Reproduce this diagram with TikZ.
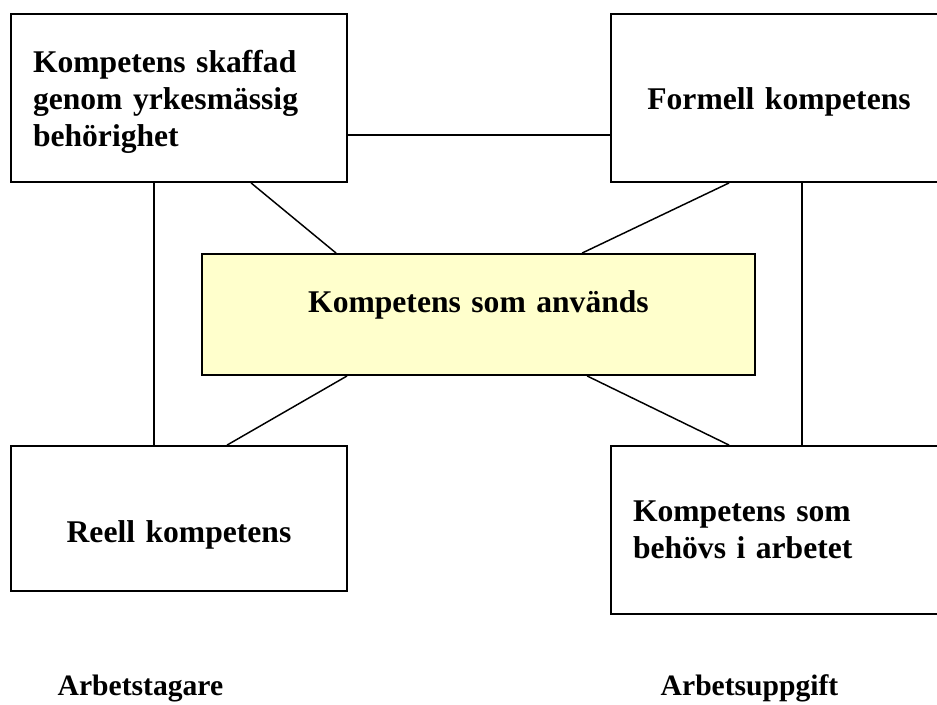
\documentclass[tikz,border=0pt]{standalone}
\usepackage{fontspec}
\setmainfont{Liberation Serif}
\usetikzlibrary{calc}
\newlength\pxl \setlength\pxl{0.75pt}
\definecolor{paleyellow}{HTML}{FFFFCC}
\tikzset{
  box/.style={rectangle,draw,line width=1.4pt,inner xsep=22\pxl,inner ysep=0pt,text width=292\pxl,font=\bfseries\fontsize{23.7}{27.75}\selectfont},
  lab/.style={anchor=base west,inner sep=0pt,font=\bfseries\fontsize{22.2}{26}\selectfont},
  every picture/.style={line width=1.1pt},
}
\begin{document}
\begin{tikzpicture}[x=0.75pt,y=-0.75pt]
\useasboundingbox (0,0) rectangle (937,704);
\clip (0,0) rectangle (937,704);
\node[box,align=left,minimum height=168\pxl,text height=30\pxl] (skaff) at (179,98) {Kompetens skaffad\\genom yrkesmässig\\behörighet};
\node[box,align=center,minimum height=168\pxl,text height=29\pxl,text depth=7\pxl] (form) at (779,98) {Formell kompetens};
\node[box,align=center,fill=paleyellow,text width=509\pxl,minimum height=121\pxl,text height=22\pxl,text depth=27\pxl] (anv) at (478.5,314.5) {Kompetens som används};
\node[box,align=center,minimum height=145\pxl,text height=54\pxl,text depth=7\pxl] (reell) at (179,518.5) {Reell kompetens};
\node[box,align=left,minimum height=168\pxl] (behov) at (779,530) {Kompetens som\\behövs i arbetet};
\node[lab] (tagare) at (57,695) {Arbetstagare};
\node[lab] (uppg) at (660,695) {Arbetsuppgift};
% connectors
\draw (skaff.south east) ++(0,-48) coordinate (h1) -- (h1 -| form.west);
\draw ($(skaff.south west)+(144,0)$) coordinate (v1) -- (v1 |- reell.north);
\draw ($(form.south west)+(192,0)$) coordinate (v2) -- (v2 |- behov.north);
\draw ($(skaff.south west)+(241,0)$) -- ($(anv.north west)+(135,0)$);
\draw ($(form.south west)+(119,0)$) -- ($(anv.north west)+(381,0)$);
\draw ($(anv.south west)+(146,0)$) -- ($(reell.north west)+(217,0)$);
\draw ($(anv.south west)+(386,0)$) -- ($(behov.north west)+(119,0)$);
\end{tikzpicture}
\end{document}
